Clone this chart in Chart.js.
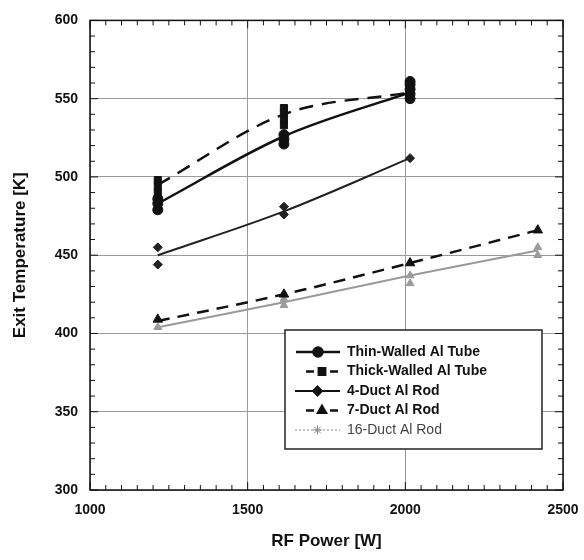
<!DOCTYPE html>
<html>
<head>
<meta charset="utf-8">
<script src="https://cdn.jsdelivr.net/npm/chart.js@4.4.0/dist/chart.umd.min.js"></script>
<style>
  html, body { margin: 0; padding: 0; background: #fff; }
  #wrap { width: 584px; height: 560px; }
</style>
</head>
<body>
<div id="wrap"><canvas id="c" width="584" height="560"></canvas></div>
<script>
// данные
const power = [1215, 1615, 2015, 2420];
const xTicks = [1000, 1500, 2000, 2500];
const yTicks = [300, 350, 400, 450, 500, 550, 600];

const thinLine = [483, 526, 554];
const thinPts = [[479, 483, 486], [521, 524, 527], [550, 553, 556, 559, 561]];

const thickLine = [495, 540, 554];
const thickPts = [[486, 490, 494, 498], [533, 537, 541, 544], [552, 555, 558]];

const duct4Line = [450, 478, 512];
const duct4Pts = [[444, 455], [476, 481], [512]];

const duct7Line = [408, 425, 445, 466];
const duct7Pts = [[409], [425], [445], [466]];

const duct16Line = [404, 420, 437, 453];
const duct16Pts = [[404], [418, 422], [432, 437], [450, 455]];

const toLine = (vals) => vals.map((v, i) => ({ x: power[i], y: v }));
const toPts = (groups) => groups.flatMap((g, i) => g.map(v => ({ x: power[i], y: v })));

const GRAY = '#9a9a9a';

const lineSet = (data, color, width, dash) => ({
    type: 'line', data: toLine(data), borderColor: color, borderWidth: width,
    borderDash: dash, pointRadius: 0, tension: 0.35, cubicInterpolationMode: 'monotone', fill: false
});
const markSet = (data, color, style, r) => ({
    type: 'scatter', data: toPts(data), backgroundColor: color, borderColor: color,
    pointStyle: style, pointRadius: r, showLine: false
});

// легенда внутри области графика
const legendItems = [
    { label: 'Thin-Walled Al Tube', color: '#111', width: 2.5, dash: [], style: 'circle', bold: true, x0: 296, x1: 340 },
    { label: 'Thick-Walled Al Tube', color: '#111', width: 2.5, dash: [], style: 'rect', bold: true, x0: 306, x1: 338, gap: true },
    { label: '4-Duct Al Rod', color: '#111', width: 2, dash: [], style: 'rectRot', bold: true, x0: 295, x1: 340 },
    { label: '7-Duct Al Rod', color: '#111', width: 2.5, dash: [], style: 'triangle', bold: true, x0: 306, x1: 338, gap: true },
    { label: '16-Duct Al Rod', color: '#888', width: 1, dash: [2, 2], style: 'star', bold: false, x0: 295, x1: 340 }
];

const boxLegend = {
    id: 'boxLegend',
    afterDraw(chart) {
        const ctx = chart.ctx;
        ctx.save();
        ctx.strokeStyle = '#222';
        ctx.lineWidth = 1.5;
        ctx.fillStyle = '#fff';
        ctx.fillRect(285, 330, 257, 119);
        ctx.strokeRect(285, 330, 257, 119);
        legendItems.forEach((it, i) => {
            const y = 352 + i * 19.5;
            ctx.strokeStyle = it.color;
            ctx.lineWidth = it.width;
            ctx.setLineDash(it.dash);
            ctx.beginPath();
            if (it.gap) {
                ctx.moveTo(it.x0, y); ctx.lineTo(it.x0 + 8, y);
                ctx.moveTo(it.x1 - 8, y); ctx.lineTo(it.x1, y);
            } else {
                ctx.moveTo(it.x0, y); ctx.lineTo(it.x1, y);
            }
            ctx.stroke();
            ctx.setLineDash([]);
            ctx.fillStyle = it.color;
            Chart.helpers.drawPoint(ctx, { pointStyle: it.style, radius: 4.5, rotation: 0, borderWidth: 1 }, (it.x0 + it.x1) / 2, y);
            ctx.fillStyle = it.bold ? '#111' : '#444';
            ctx.font = (it.bold ? 'bold ' : '') + '14px "Liberation Sans", Arial, sans-serif';
            ctx.textBaseline = 'middle';
            ctx.fillText(it.label, 347, y);
        });
        ctx.restore();
    }
};

// мелкие засечки по всем четырём сторонам
const minorTicks = {
    id: 'minorTicks',
    afterDraw(chart) {
        const ctx = chart.ctx;
        const a = chart.chartArea;
        const xs = chart.scales.x, ys = chart.scales.y;
        ctx.save();
        ctx.strokeStyle = '#111';
        ctx.lineWidth = 1.5;
        ctx.strokeRect(a.left, a.top, a.right - a.left, a.bottom - a.top);
        ctx.lineWidth = 1;
        ctx.beginPath();
        for (let v = xs.min; v <= xs.max; v += 50) {
            const p = xs.getPixelForValue(v);
            const len = v % 500 === 0 ? 8 : 5;
            ctx.moveTo(p, a.bottom); ctx.lineTo(p, a.bottom - len);
            ctx.moveTo(p, a.top); ctx.lineTo(p, a.top + len);
        }
        for (let v = ys.min; v <= ys.max; v += 10) {
            const p = ys.getPixelForValue(v);
            const len = v % 50 === 0 ? 8 : 5;
            ctx.moveTo(a.left, p); ctx.lineTo(a.left + len, p);
            ctx.moveTo(a.right, p); ctx.lineTo(a.right - len, p);
        }
        ctx.stroke();
        ctx.restore();
    }
};

const tickFont = { family: '"Liberation Sans", Arial, sans-serif', size: 14, weight: 'bold' };
const titleFont = { family: '"Liberation Sans", Arial, sans-serif', size: 17, weight: 'bold' };

new Chart(document.getElementById('c'), {
    data: {
        datasets: [
            lineSet(thinLine, '#111', 2.5, []),
            markSet(thinPts, '#111', 'circle', 5),
            lineSet(thickLine, '#111', 2.5, [14, 9]),
            markSet(thickPts, '#111', 'rect', 5),
            lineSet(duct4Line, '#222', 2, []),
            markSet(duct4Pts, '#222', 'rectRot', 4.5),
            lineSet(duct7Line, '#111', 2.5, [12, 8]),
            markSet(duct7Pts, '#111', 'triangle', 5.5),
            lineSet(duct16Line, GRAY, 2, []),
            markSet(duct16Pts, GRAY, 'triangle', 4.5)
        ]
    },
    options: {
        responsive: false,
        animation: false,
        layout: { padding: { left: 6, top: 17, right: 21, bottom: 4 } },
        plugins: { legend: { display: false }, tooltip: { enabled: false } },
        scales: {
            x: {
                type: 'linear', min: 1000, max: 2500,
                afterBuildTicks: (s) => { s.ticks = xTicks.map(v => ({ value: v })); },
                afterFit: (s) => { s.height = 66; s.paddingRight = 0; s.paddingLeft = 0; },
                grid: { color: GRAY, lineWidth: 1, drawTicks: false },
                border: { display: false },
                ticks: { color: '#111', font: tickFont, padding: 12, maxRotation: 0, callback: (v) => String(v) },
                title: { display: true, text: 'RF Power [W]', color: '#111', font: titleFont, padding: { top: 2 } }
            },
            y: {
                type: 'linear', min: 300, max: 600,
                afterBuildTicks: (s) => { s.ticks = yTicks.map(v => ({ value: v })); },
                afterFit: (s) => { s.width = 84; },
                grid: { color: GRAY, lineWidth: 1, drawTicks: false },
                border: { display: false },
                ticks: { color: '#111', font: tickFont, padding: 12, callback: (v) => String(v) },
                title: { display: true, text: 'Exit Temperature [K]', color: '#111', font: titleFont, padding: { bottom: 4 } }
            }
        }
    },
    plugins: [minorTicks, boxLegend]
});
</script>
</body>
</html>
